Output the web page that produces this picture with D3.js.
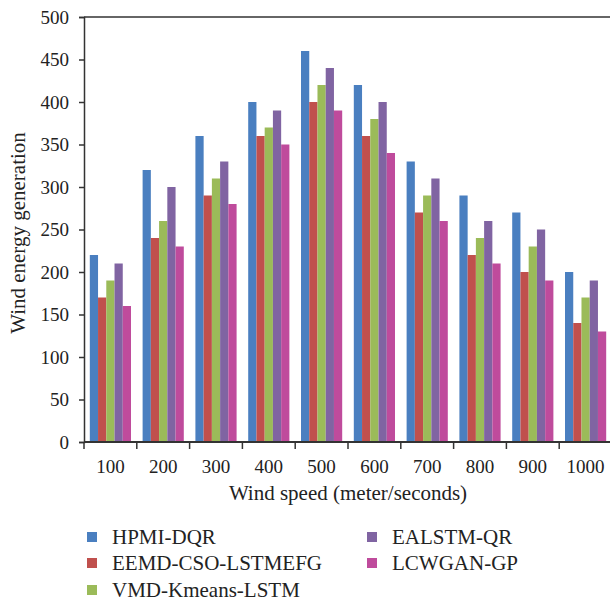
<!DOCTYPE html>
<html>
<head>
<meta charset="utf-8">
<script src="https://cdn.jsdelivr.net/npm/d3@7"></script>
<style>
  body { margin: 0; background: #fff; }
  text { font-family: "Liberation Serif", "DejaVu Serif", serif; fill: #222; }
</style>
</head>
<body>
<div id="canvas"></div>
<script>
let speeds = ["100", "200", "300", "400", "500", "600", "700", "800", "900", "1000"];
let models = ["HPMI-DQR", "EEMD-CSO-LSTMEFG", "VMD-Kmeans-LSTM", "EALSTM-QR", "LCWGAN-GP"];
let colors = ["#4a7fc0", "#c0504d", "#9bbb59", "#8064a2", "#bf4b9c"];

let hpmi = [220, 320, 360, 400, 460, 420, 330, 290, 270, 200];
let eemd = [170, 240, 290, 360, 400, 360, 270, 220, 200, 140];
let vmd = [190, 260, 310, 370, 420, 380, 290, 240, 230, 170];
let ealstm = [210, 300, 330, 390, 440, 400, 310, 260, 250, 190];
let lcwgan = [160, 230, 280, 350, 390, 340, 260, 210, 190, 130];
let series = [hpmi, eemd, vmd, ealstm, lcwgan];

let yTicks = [0, 50, 100, 150, 200, 250, 300, 350, 400, 450, 500];

let width = 610, height = 601;
let margin = { top: 17, left: 84, bottom: 159, right: -2 };

let svg = d3.select("#canvas").append("svg")
  .attr("width", width).attr("height", height);

let x0 = d3.scaleBand()
  .domain(speeds)
  .range([margin.left, width - margin.right])
  .paddingInner(0.22)
  .paddingOuter(0.11);

let x1 = d3.scaleBand()
  .domain(d3.range(models.length))
  .range([0, x0.bandwidth()]);

let y = d3.scaleLinear()
  .domain([0, 500])
  .range([height - margin.bottom, margin.top]);

// bars
let groups = svg.append("g")
  .selectAll("g")
  .data(speeds)
  .join("g")
  .attr("transform", d => `translate(${x0(d)},0)`);

groups.selectAll("rect")
  .data((d, i) => series.map((s, k) => ({ k: k, v: s[i] })))
  .join("rect")
  .attr("x", d => x1(d.k))
  .attr("width", x1.bandwidth())
  .attr("y", d => y(d.v))
  .attr("height", d => y(0) - y(d.v))
  .attr("fill", d => colors[d.k]);

// top border
svg.append("line")
  .attr("x1", margin.left).attr("x2", width)
  .attr("y1", margin.top).attr("y2", margin.top)
  .attr("stroke", "#333").attr("stroke-width", 1.5);

// y axis
let yAxis = svg.append("g")
  .attr("transform", `translate(${margin.left},0)`)
  .call(d3.axisLeft(y).tickValues(yTicks).tickSize(5).tickPadding(10));
yAxis.select(".domain").attr("stroke", "#333").attr("stroke-width", 1.5);
yAxis.selectAll(".tick line").attr("stroke", "#333").attr("stroke-width", 1.5);
yAxis.selectAll("text").style("font-size", "19px").attr("fill", "#222");

// x axis: ticks at band boundaries
let xAxis = svg.append("g")
  .attr("transform", `translate(0,${y(0)})`);
xAxis.append("line")
  .attr("x1", margin.left).attr("x2", width)
  .attr("stroke", "#333").attr("stroke-width", 2);
let step = x0.step();
xAxis.selectAll(".tk")
  .data(speeds)
  .join("line")
  .attr("class", "tk")
  .attr("x1", d => x0(d) - x0.paddingOuter() * step)
  .attr("x2", d => x0(d) - x0.paddingOuter() * step)
  .attr("y1", 0).attr("y2", 7)
  .attr("stroke", "#333").attr("stroke-width", 1.5);
xAxis.selectAll(".lbl")
  .data(speeds)
  .join("text")
  .attr("class", "lbl")
  .attr("x", d => x0(d) + x0.bandwidth() / 2)
  .attr("y", 31)
  .attr("text-anchor", "middle")
  .style("font-size", "19px")
  .text(d => d);

// axis titles
svg.append("text")
  .attr("x", 348).attr("y", 500)
  .attr("text-anchor", "middle")
  .style("font-size", "21px")
  .text("Wind speed (meter/seconds)");

svg.append("text")
  .attr("transform", "translate(25,233) rotate(-90)")
  .attr("text-anchor", "middle")
  .style("font-size", "21px")
  .text("Wind energy generation");

// legend
let legendPos = [[87, 537], [87, 563], [87, 590], [367, 537], [367, 563]];
let legend = svg.append("g")
  .selectAll("g")
  .data(models)
  .join("g")
  .attr("transform", (d, i) => `translate(${legendPos[i][0]},${legendPos[i][1]})`);
legend.append("rect")
  .attr("x", 0).attr("y", -5)
  .attr("width", 10).attr("height", 10)
  .attr("fill", (d, i) => colors[i]);
legend.append("text")
  .attr("x", 25).attr("y", 7)
  .style("font-size", "21px")
  .text(d => d);
</script>
</body>
</html>
